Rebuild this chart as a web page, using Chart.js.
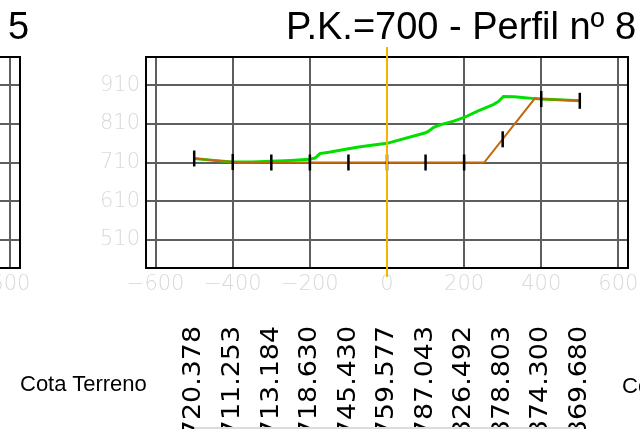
<!DOCTYPE html>
<html>
<head>
<meta charset="utf-8">
<script src="https://cdn.jsdelivr.net/npm/chart.js@4.4.1/dist/chart.umd.min.js"></script>
<style>
  html, body { margin: 0; padding: 0; background: #fff; }
  body { position: relative; width: 640px; height: 429px; overflow: hidden; }
  canvas { position: absolute; top: 0; }
  .txt { position: absolute; white-space: nowrap; color: #000;
         font-family: "Liberation Sans", Arial, sans-serif; }
  .titulo { top: 7px; font-size: 38px; line-height: 38px; }
  .etiqueta { font-size: 22px; line-height: 22px; }
</style>
</head>
<body>
<canvas id="perfilAnterior" width="640" height="429" style="left:-608px"></canvas>
<canvas id="perfil" width="640" height="429" style="left:0"></canvas>
<div class="txt titulo" style="left:8px">5</div>
<div class="txt titulo" style="left:286px">P.K.=700 - Perfil nº 8</div>
<div class="txt etiqueta" style="left:20px;top:373px">Cota Terreno</div>
<div class="txt etiqueta" style="left:622px;top:375px">Cota Terreno</div>

<script>
// estaciones del perfil transversal y cotas de terreno (guitarra)
const estaciones = [-500, -400, -300, -200, -100, 0, 100, 200, 300, 400, 500];
const cotaTerreno = [720.378, 711.253, 713.184, 718.630, 745.430, 759.577, 787.043, 826.492, 878.803, 874.300, 869.680];
// cota de la marca en cada estacion (sobre la rasante)
const cotaMarca = [720.378, 711.253, 710, 710, 710, 710, 710, 710, 770, 874.3, 869.68];

// terreno natural (linea verde)
const terrenoX = [-500, -450, -400, -350, -300, -250, -200, -186, -174, -147, -100, -69, -35, 0, 100, 108, 121, 140, 173, 200, 235, 277, 289, 302, 330, 383, 400, 500];
const terrenoY = [720.378, 715.5, 711.253, 711.5, 713.184, 715.5, 718.630, 722, 733, 737, 745.430, 751, 755, 759.577, 787.043, 791, 801, 808, 817, 826.492, 843, 860.5, 868, 881, 880, 875.3, 874.300, 869.680];

// rasante / seccion tipo (linea marron)
const rasanteX = [-500, -400, -385, 252, 383, 400, 500];
const rasanteY = [720.378, 711.253, 710, 710, 875.3, 874.3, 869.68];

// ejes
const ticksX = [-600, -400, -200, 0, 200, 400, 600];
const ticksXLabels = ['\u2212600', '\u2212400', '\u2212200', '0', '200', '400', '600'];
const ticksY = [510, 610, 710, 810, 910];
const rangoX = [-625, 625];
const rangoY = [437, 983];
const ejeX = 0;

const toPts = (xs, ys) => xs.map((x, i) => ({ x: x, y: ys[i] }));

// marco negro del area del grafico
const marco = {
  id: 'marco',
  afterDatasetsDraw(chart) {
    const a = chart.chartArea, ctx = chart.ctx;
    ctx.save();
    ctx.strokeStyle = '#000';
    ctx.lineWidth = 2;
    ctx.strokeRect(a.left, a.top, a.right - a.left, a.bottom - a.top);
    ctx.restore();
  }
};

// eje amarillo en x = 0, sobresale un poco del marco
const ejeAmarillo = {
  id: 'ejeAmarillo',
  afterDraw(chart) {
    const a = chart.chartArea, ctx = chart.ctx;
    const px = chart.scales.x.getPixelForValue(ejeX);
    ctx.save();
    ctx.strokeStyle = '#f5b400';
    ctx.lineWidth = 2;
    ctx.beginPath();
    ctx.moveTo(px, a.top - 10);
    ctx.lineTo(px, a.bottom + 9);
    ctx.stroke();
    ctx.restore();
  }
};

// cotas de terreno giradas bajo el perfil
const guitarra = {
  id: 'guitarra',
  afterDraw(chart) {
    const ctx = chart.ctx, xs = chart.scales.x;
    ctx.save();
    ctx.font = '24px "DejaVu Sans"';
    ctx.fillStyle = '#000';
    ctx.textAlign = 'right';
    ctx.textBaseline = 'middle';
    estaciones.forEach((e, i) => {
      ctx.save();
      ctx.translate(xs.getPixelForValue(e), 326);
      ctx.rotate(-Math.PI / 2);
      ctx.scale(1.12, 1);
      ctx.fillText(cotaTerreno[i].toFixed(3), 0, 0);
      ctx.restore();
    });
    ctx.strokeStyle = '#dcdcdc';
    ctx.lineWidth = 2;
    ctx.beginPath();
    ctx.moveTo(xs.getPixelForValue(estaciones[0]), 428);
    ctx.lineTo(xs.getPixelForValue(estaciones[estaciones.length - 1]), 428);
    ctx.stroke();
    ctx.restore();
  }
};

function opcionesPerfil() {
  const fuenteTicks = { family: '"DejaVu Sans", sans-serif', size: 21, weight: 200 };
  return {
    responsive: false,
    animation: false,
    layout: { padding: { top: 57, left: 0, right: 12, bottom: 131 } },
    plugins: { legend: { display: false }, tooltip: { enabled: false }, title: { display: false } },
    scales: {
      x: {
        type: 'linear', min: rangoX[0], max: rangoX[1],
        afterBuildTicks: s => { s.ticks = ticksX.map(v => ({ value: v })); },
        afterFit: s => { s.height = 30; s.paddingLeft = 0; s.paddingRight = 0; },
        grid: { color: '#5e5e5e', lineWidth: 2, drawTicks: false },
        border: { display: false },
        ticks: { color: '#d9d9d9', font: fuenteTicks, padding: 4, maxRotation: 0,
                 callback: v => ticksXLabels[ticksX.indexOf(v)] }
      },
      y: {
        type: 'linear', min: rangoY[0], max: rangoY[1],
        afterBuildTicks: s => { s.ticks = ticksY.map(v => ({ value: v })); },
        afterFit: s => { s.width = 146; s.paddingTop = 0; s.paddingBottom = 0; },
        grid: { color: '#5e5e5e', lineWidth: 2, drawTicks: false },
        border: { display: false },
        ticks: { color: '#d9d9d9', font: fuenteTicks, padding: 6,
                 callback: v => String(v) }
      }
    }
  };
}

// panel anterior (solo asoma su borde derecho)
new Chart(document.getElementById('perfilAnterior'), {
  type: 'scatter',
  data: { datasets: [] },
  options: opcionesPerfil(),
  plugins: [marco]
});

new Chart(document.getElementById('perfil'), {
  type: 'scatter',
  data: {
    datasets: [
      {
        label: 'Marcas',
        data: toPts(estaciones, cotaMarca),
        pointStyle: 'line', rotation: 90, pointRadius: 8,
        borderColor: '#000', borderWidth: 2.5, showLine: false, order: 0
      },
      {
        label: 'Rasante',
        data: toPts(rasanteX, rasanteY),
        showLine: true, borderColor: '#c0680a', borderWidth: 2,
        pointRadius: 0, order: 1
      },
      {
        label: 'Terreno',
        data: toPts(terrenoX, terrenoY),
        showLine: true, borderColor: '#00e000', borderWidth: 3,
        pointRadius: 0, order: 2
      }
    ]
  },
  options: opcionesPerfil(),
  plugins: [marco, ejeAmarillo, guitarra]
});
</script>
</body>
</html>
